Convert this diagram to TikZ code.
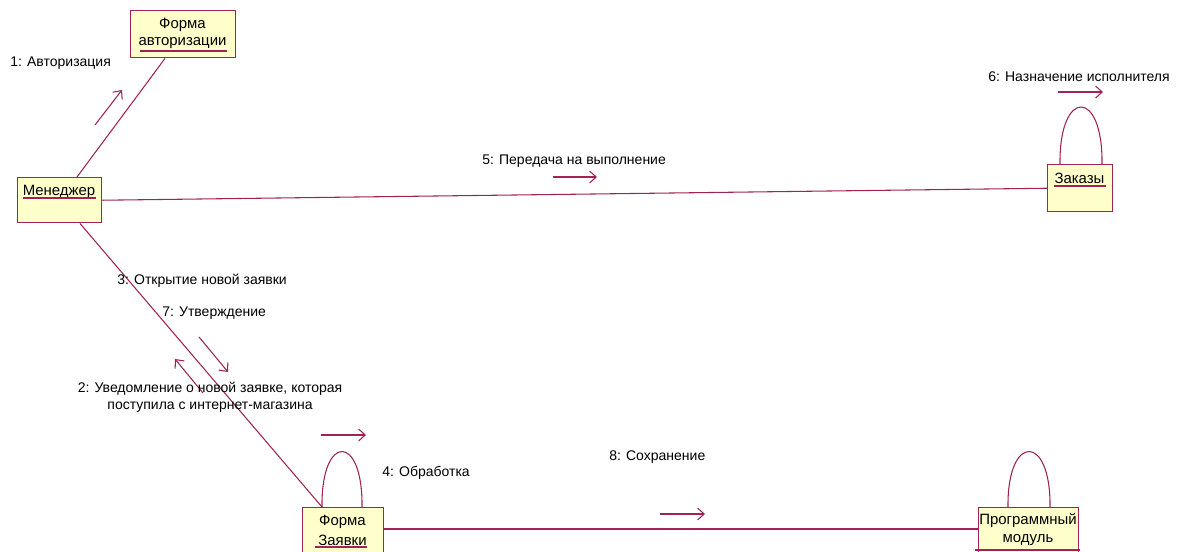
\documentclass[tikz,border=0pt]{standalone}
\usepackage{fontspec}
\setmainfont{Liberation Sans}
\usetikzlibrary{arrows.meta,calc}
\definecolor{umlline}{RGB}{160,35,85}
\definecolor{umlfill}{RGB}{255,255,204}
\begin{document}
\begin{tikzpicture}[x=0.75pt,y=-0.75pt,
  obj/.style={draw=umlline, fill=umlfill, line width=1.1pt, anchor=north west, inner sep=0pt},
  link/.style={draw=umlline, line width=0.8pt},
  msg/.style={draw=umlline, line width=0.8pt, -{Straight Barb[length=5pt,width=9pt]}},
  lbl/.style={font=\fontsize{10.5}{13}\selectfont, inner sep=0pt},
  objname/.style={font=\fontsize{11.2}{13}\selectfont, inner sep=0pt},
  ul/.style={draw=umlline, line width=0.9pt}]
\useasboundingbox (0,0) rectangle (1181,552);

% object boxes
\node[obj, minimum width=78.75pt, minimum height=35.25pt] (auth) at (130,10) {};
\node[obj, minimum width=63pt,    minimum height=33.75pt] (mgr)  at (17,177) {};
\node[obj, minimum width=48.75pt, minimum height=35.25pt] (zak)  at (1047,164) {};
\node[obj, minimum width=60.75pt, minimum height=45pt]    (form) at (302,507) {};
\node[obj, minimum width=75pt,    minimum height=45pt]    (prog) at (978,507) {};

% object names
\node[objname] (auth1) at (182.5,25) {Форма};
\node[objname] (auth2) at (182.5,43) {авторизации};
\draw[ul] (140,51) -- (227,51);
\node[objname] (mgr1) at (59,192) {Менеджер};
\draw[ul] (23,198) -- (96,198);
\node[objname] (zak1) at (1079.5,178) {Заказы};
\draw[ul] (1054,186) -- (1106,186);
\node[objname] (form1) at (342.5,522) {Форма};
\node[objname] (form2) at (342.5,540) {Заявки};
\draw[ul] (315,547) -- (367,547);
\node[objname] (prog1) at (1028,521) {Программный};
\node[objname] (prog2) at (1028,540) {модуль};
\draw[ul] (975,550) -- (1080,550);

% links between objects
\draw[link] ($(mgr.north west)+(60,0)$) -- ($(auth.south west)+(35,0)$);
\draw[link] (mgr.east) -- (zak.west);
\draw[link] ($(mgr.south west)+(63,0)$) -- ($(form.north west)+(20,0)$);
\draw[link] ($(form.north east)+(0,22)$) -- ($(prog.north west)+(0,22)$);

% self links
\draw[link] ($(zak.north west)+(13,0)$) .. controls +(-1,-76) and +(1,-76) .. ($(zak.north west)+(55,0)$);
\draw[link] ($(form.north west)+(20,0)$) .. controls +(-1,-74) and +(1,-74) .. ($(form.north west)+(60,0)$);
\draw[link] ($(prog.north west)+(30,0)$) .. controls +(-1,-74) and +(1,-74) .. ($(prog.north west)+(72,0)$);

% message arrows
\coordinate (m1a) at (95,125);   \coordinate (m1b) at (122,90);
\coordinate (m5a) at (553,177);  \coordinate (m5b) at (597,177);
\coordinate (m6a) at (1058,92);  \coordinate (m6b) at (1103,92);
\coordinate (m7a) at (199,337);  \coordinate (m7b) at (228,372);
\coordinate (m2a) at (203,393);  \coordinate (m2b) at (175,359);
\coordinate (m4a) at (321,435);  \coordinate (m4b) at (366,435);
\coordinate (m8a) at (660,514);  \coordinate (m8b) at (705,514);
\draw[msg] (m1a) -- (m1b);
\draw[msg] (m5a) -- (m5b);
\draw[msg] (m6a) -- (m6b);
\draw[msg] (m7a) -- (m7b);
\draw[msg] (m2a) -- (m2b);
\draw[msg] (m4a) -- (m4b);
\draw[msg] (m8a) -- (m8b);

% message labels
\node[lbl, anchor=west] (t1) at (10,63) {1: Авторизация};
\node[lbl, anchor=west] (t3) at (117,281) {3: Открытие новой заявки};
\node[lbl, anchor=west] (t7) at (162,313) {7: Утверждение};
\node[lbl, align=center] (t2) at (210,397) {2: Уведомление о новой заявке, которая\\поступила с интернет-магазина};
\node[lbl, anchor=west] (t4) at (382,473) {4: Обработка};
\node[lbl, anchor=west] (t5) at (482,161) {5: Передача на выполнение};
\node[lbl, anchor=west] (t6) at (988,77) {6: Назначение исполнителя};
\node[lbl, anchor=west] (t8) at (609,457) {8: Сохранение};
\end{tikzpicture}
\end{document}
